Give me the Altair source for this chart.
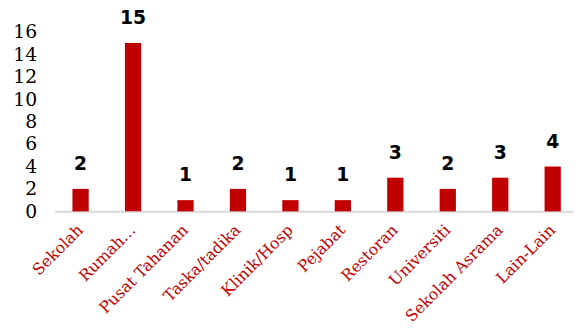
import altair as alt
import pandas as pd

categories = ["Sekolah", "Rumah…", "Pusat Tahanan", "Taska/tadika", "Klinik/Hosp",
              "Pejabat", "Restoran", "Universiti", "Sekolah Asrama", "Lain-Lain"]
values = [2, 15, 1, 2, 1, 1, 3, 2, 3, 4]

df = pd.DataFrame({"kategori": categories, "nilai": values})

x = alt.X("kategori:N", sort=categories, title=None,
          scale=alt.Scale(range=[0, 532], paddingInner=0.69, paddingOuter=0.345),
          axis=alt.Axis(labelAngle=-45, labelAlign="right", labelBaseline="middle",
                        labelColor="#C00000", labelFont="DejaVu Serif", labelFontSize=16,
                        labelPadding=16, ticks=False, tickSize=0, domainColor="#D9D9D9",
                        domainWidth=2, labelOverlap=False, labelLimit=300))
y = alt.Y("nilai:Q", title=None,
          scale=alt.Scale(domain=[0, 16], nice=False),
          axis=alt.Axis(values=list(range(0, 17, 2)), grid=False, domain=False, ticks=False,
                        tickSize=0, labelPadding=18, labelFont="DejaVu Serif",
                        labelFontSize=19, labelColor="#000000", labelOverlap=False))

base = alt.Chart(df).encode(x=x, y=y)
bars = base.mark_bar(color="#C00000")
text = base.mark_text(baseline="bottom", dy=-15, font="DejaVu Sans",
                      fontWeight="bold", fontSize=19, color="#000000").encode(text="nilai:Q")

chart = (bars + text).properties(
    width=526, height=182,
    autosize=alt.AutoSizeParams(type="none"),
    padding={"left": 47, "top": 22, "right": 0, "bottom": 112},
).configure_view(stroke=None)

chart.save("out.html", embed_options={"renderer": "svg", "actions": False})
